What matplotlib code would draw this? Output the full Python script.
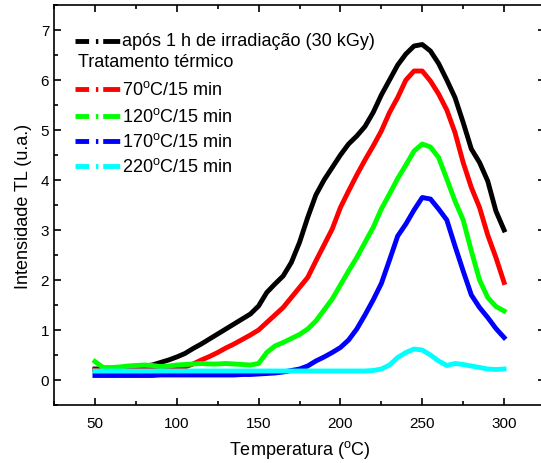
import matplotlib
matplotlib.use('Agg')
import matplotlib.pyplot as plt
from matplotlib.lines import Line2D
from matplotlib.ticker import MultipleLocator

plt.rcParams['font.family'] = ['Liberation Sans', 'DejaVu Sans']
plt.rcParams['mathtext.fontset'] = 'custom'
plt.rcParams['mathtext.rm'] = 'Liberation Sans'

# temperature grid (oC)
temps = [50, 55, 60, 65, 70, 75, 80, 85, 90, 95,
         100, 105, 110, 115, 120, 125, 130, 135, 140, 145,
         150, 155, 160, 165, 170, 175, 180, 185, 190, 195,
         200, 205, 210, 215, 220, 225, 230, 235, 240, 245,
         250, 255, 260, 265, 270, 275, 280, 285, 290, 295, 300]

# TL intensity (u.a.)
irradiado = [0.22, 0.22, 0.23, 0.24, 0.25, 0.26, 0.28, 0.30, 0.35, 0.40,
             0.46, 0.53, 0.63, 0.72, 0.82, 0.92, 1.02, 1.12, 1.22, 1.32,
             1.48, 1.75, 1.92, 2.08, 2.35, 2.75, 3.25, 3.70, 4.00, 4.25,
             4.50, 4.72, 4.88, 5.07, 5.35, 5.70, 6.00, 6.30, 6.52, 6.68,
             6.71, 6.58, 6.33, 6.00, 5.65, 5.15, 4.62, 4.35, 3.98, 3.38, 3.00]
t70 = [0.20, 0.20, 0.21, 0.21, 0.22, 0.22, 0.23, 0.23, 0.23, 0.24,
       0.24, 0.26, 0.32, 0.40, 0.47, 0.55, 0.64, 0.72, 0.81, 0.90,
       1.00, 1.15, 1.30, 1.45, 1.65, 1.85, 2.05, 2.38, 2.70, 3.02,
       3.45, 3.78, 4.10, 4.40, 4.68, 4.98, 5.35, 5.65, 6.00, 6.18,
       6.18, 5.98, 5.72, 5.40, 4.95, 4.35, 3.85, 3.45, 2.90, 2.45, 1.95]
t120 = [0.37, 0.25, 0.25, 0.26, 0.28, 0.29, 0.30, 0.29, 0.27, 0.28,
        0.30, 0.31, 0.32, 0.33, 0.32, 0.32, 0.33, 0.32, 0.31, 0.30,
        0.33, 0.55, 0.68, 0.75, 0.83, 0.91, 1.02, 1.18, 1.40, 1.62,
        1.90, 2.18, 2.45, 2.75, 3.05, 3.42, 3.72, 4.03, 4.30, 4.58,
        4.72, 4.66, 4.45, 4.02, 3.58, 3.20, 2.58, 2.00, 1.65, 1.47, 1.38]
t170 = [0.09, 0.09, 0.09, 0.09, 0.09, 0.09, 0.09, 0.09, 0.10, 0.10,
        0.10, 0.10, 0.10, 0.10, 0.10, 0.10, 0.10, 0.10, 0.11, 0.11,
        0.12, 0.13, 0.14, 0.16, 0.19, 0.22, 0.28, 0.38, 0.46, 0.55,
        0.65, 0.80, 1.02, 1.30, 1.60, 1.93, 2.40, 2.88, 3.12, 3.40,
        3.65, 3.62, 3.42, 3.20, 2.68, 2.18, 1.70, 1.45, 1.25, 1.03, 0.85]
t220 = [0.18, 0.18, 0.18, 0.18, 0.18, 0.18, 0.18, 0.18, 0.18, 0.18,
        0.18, 0.18, 0.18, 0.18, 0.18, 0.18, 0.18, 0.18, 0.18, 0.18,
        0.18, 0.18, 0.18, 0.18, 0.18, 0.18, 0.18, 0.18, 0.18, 0.18,
        0.18, 0.18, 0.18, 0.18, 0.19, 0.22, 0.30, 0.45, 0.55, 0.62,
        0.60, 0.50, 0.38, 0.29, 0.33, 0.31, 0.28, 0.25, 0.22, 0.21, 0.22]

series = [irradiado, t70, t120, t170, t220]
colors = ['black', '#ff0000', '#00ff00', '#0000ff', '#00ffff']
labels = ['após 1 h de irradiação (30 kGy)',
          '70$^{\\mathrm{o}}$C/15 min',
          '120$^{\\mathrm{o}}$C/15 min',
          '170$^{\\mathrm{o}}$C/15 min',
          '220$^{\\mathrm{o}}$C/15 min']

fig = plt.figure(figsize=(5.41, 4.64), dpi=100)
ax = fig.add_axes([54 / 541, 58 / 464, 491 / 541, 400 / 464])

for y, c in zip(series, colors):
    ax.plot(temps, y, color=c, lw=3.5, solid_joinstyle='round')

ax.set_xlim(25, 325)
ax.set_ylim(-0.5, 7.5)
ax.xaxis.set_major_locator(MultipleLocator(50))
ax.xaxis.set_minor_locator(MultipleLocator(25))
ax.yaxis.set_major_locator(MultipleLocator(1))
ax.yaxis.set_minor_locator(MultipleLocator(0.5))
ax.tick_params(which='both', direction='in', top=True, right=True, width=1.2, labelsize=11)
ax.tick_params(which='major', length=5)
ax.tick_params(which='minor', length=3)
ax.tick_params(axis='x', pad=8)
for s in ax.spines.values():
    s.set_linewidth(1.2)

ax.set_xlabel('Temperatura ($^{\\mathrm{o}}$C)', fontsize=13, labelpad=6)
ax.set_ylabel('Intensidade TL (u.a.)', fontsize=13, labelpad=6)

# legend drawn by hand (Origin style)
rows = [0.911, 0.79, 0.723, 0.661, 0.598]
dash = (0, (2.8, 1.4, 0.5, 1.0, 3.5, 5))
for yr, c, lab in zip(rows, colors, labels):
    ax.add_line(Line2D([0.043, 0.134], [yr, yr], transform=ax.transAxes,
                       color=c, lw=3.5, linestyle=dash))
    ax.text(0.138, yr, lab, transform=ax.transAxes, fontsize=13, va='center', ha='left')
ax.text(0.048, 0.858, 'Tratamento térmico', transform=ax.transAxes,
        fontsize=13, va='center', ha='left')

fig.savefig('out.png', dpi=100)
